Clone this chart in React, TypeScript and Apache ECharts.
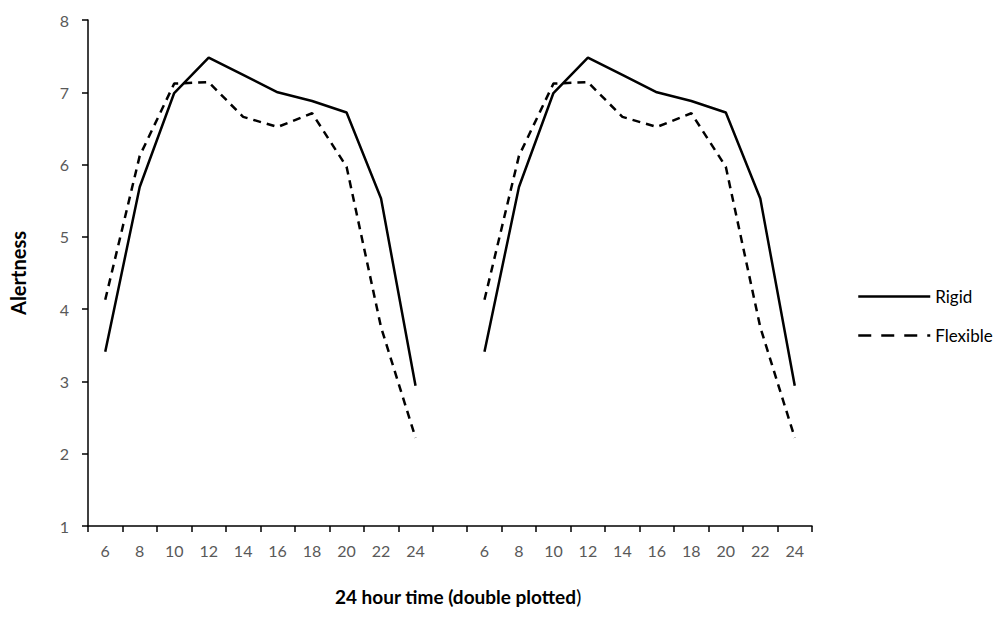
import React, { useEffect, useRef } from "react";
import * as echarts from "echarts";

const hours = ["6", "8", "10", "12", "14", "16", "18", "20", "22", "24"];
const categories = [...hours, "", ...hours];
const rigidDay = [3.41, 5.69, 6.99, 7.48, 7.24, 7.0, 6.88, 6.72, 5.53, 2.94];
const flexibleDay = [4.13, 6.12, 7.12, 7.14, 6.66, 6.52, 6.71, 5.97, 3.75, 2.22];
const rigid = [...rigidDay, null, ...rigidDay];
const flexible = [...flexibleDay, null, ...flexibleDay];
const yTicks = { min: 1, max: 8, interval: 1 };

const FONT = "Lato, 'Open Sans', sans-serif";

export default function App() {
  const ref = useRef<HTMLDivElement>(null);
  useEffect(() => {
    if (!ref.current) return;
    const chart = echarts.init(ref.current, undefined, { renderer: "svg" });
    chart.setOption({
      animation: false,
      backgroundColor: "#ffffff",
      textStyle: { fontFamily: FONT },
      grid: { left: 87, right: 182, top: 20, bottom: 104, containLabel: false },
      legend: {
        orient: "vertical",
        left: 852,
        top: 283,
        itemWidth: 72,
        itemHeight: 14,
        itemGap: 22,
        itemStyle: { opacity: 0 },
        textStyle: { fontFamily: FONT, fontSize: 17, color: "#000000" },
        data: [
          { name: "Rigid", lineStyle: { width: 2.5 } },
          { name: "Flexible", lineStyle: { width: 2.5, type: [13, 10] } },
        ],
      },
      xAxis: {
        type: "category",
        data: categories,
        boundaryGap: true,
        name: "{b|24 hour time (double plotted}{n|)}",
        nameLocation: "middle",
        nameGap: 61,
        nameTextStyle: {
          padding: [0, 0, 0, 16],
          rich: {
            b: { fontFamily: FONT, fontSize: 19, fontWeight: "bold", color: "#000000" },
            n: { fontFamily: FONT, fontSize: 19, color: "#000000" },
          },
        },
        axisLine: { lineStyle: { color: "#000000", width: 1.5 } },
        axisTick: { show: true, alignWithLabel: false, length: 6, lineStyle: { color: "#000000", width: 1.5 } },
        axisLabel: { interval: 0, color: "#595959", fontSize: 16, margin: 16, fontFamily: FONT },
        splitLine: { show: false },
      },
      yAxis: {
        type: "value",
        min: yTicks.min,
        max: yTicks.max,
        interval: yTicks.interval,
        name: "Alertness",
        nameLocation: "middle",
        nameGap: 60,
        nameTextStyle: { fontFamily: FONT, fontSize: 20, fontWeight: "bold", color: "#000000" },
        axisLine: { show: true, lineStyle: { color: "#000000", width: 1.5 } },
        axisTick: { show: true, length: 6, lineStyle: { color: "#000000", width: 1.5 } },
        axisLabel: { color: "#595959", fontSize: 16, margin: 19, fontFamily: FONT },
        splitLine: { show: false },
      },
      series: [
        {
          name: "Rigid",
          type: "line",
          data: rigid,
          symbol: "none",
          connectNulls: false,
          lineStyle: { color: "#000000", width: 2.5, type: "solid" },
          itemStyle: { color: "#000000" },
        },
        {
          name: "Flexible",
          type: "line",
          data: flexible,
          symbol: "none",
          connectNulls: false,
          lineStyle: { color: "#000000", width: 2.5, type: [8, 6] },
          itemStyle: { color: "#000000" },
        },
      ],
    });
    return () => chart.dispose();
  }, []);
  return <div ref={ref} style={{ width: 994, height: 630, position: "absolute", left: 0, top: 0 }} />;
}
